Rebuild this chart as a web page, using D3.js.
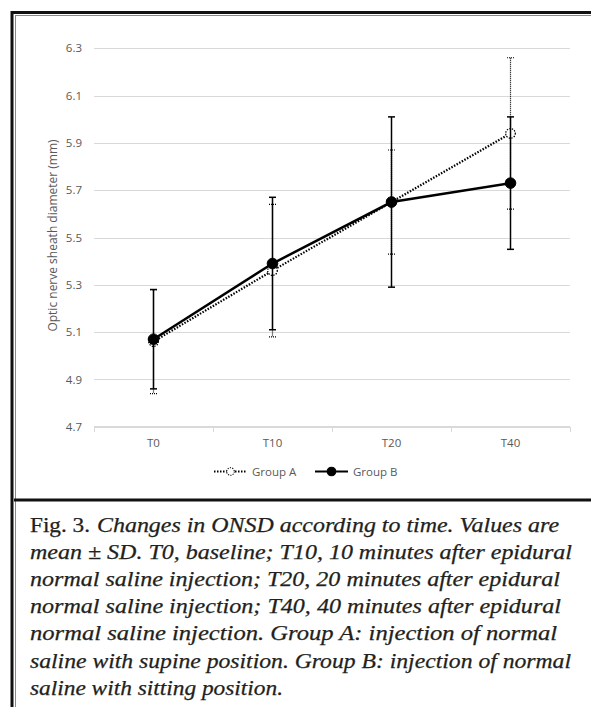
<!DOCTYPE html>
<html>
<head>
<meta charset="utf-8">
<script src="https://cdn.jsdelivr.net/npm/d3@7"></script>
<style>
  body { margin: 0; background: #fff; }
  svg { display: block; }
  .tick text { font-family: "Open Sans", "Noto Sans", sans-serif; font-size: 11.5px; fill: #595959; }
  .caption { font-family: "Liberation Serif", "DejaVu Serif", serif; font-size: 20px; fill: #231f20;
             stroke: #231f20; stroke-width: 0.25px; }
</style>
</head>
<body>
<svg id="fig" width="591" height="707"></svg>
<script>
// values
var categories = ["T0", "T10", "T20", "T40"];
var groupAMean = [5.06, 5.36, 5.65, 5.94];
var groupASd   = [0.22, 0.28, 0.22, 0.32];
var groupBMean = [5.07, 5.39, 5.65, 5.73];
var groupBSd   = [0.21, 0.28, 0.36, 0.28];
var yTicks = [4.7, 4.9, 5.1, 5.3, 5.5, 5.7, 5.9, 6.1, 6.3];
var yTitle = "Optic nerve sheath diameter (mm)";
var captionLines = [
  "Changes in ONSD according to time. Values are",
  "mean \u00b1 SD. T0, baseline; T10, 10 minutes after epidural",
  "normal saline injection; T20, 20 minutes after epidural",
  "normal saline injection; T40, 40 minutes after epidural",
  "normal saline injection. Group A: injection of normal",
  "saline with supine position. Group B: injection of normal",
  "saline with sitting position."
];

var svg = d3.select("#fig");
var sans = '"Open Sans", "Noto Sans", sans-serif';

// frame
svg.append("rect").attr("x", 12).attr("y", 12.5).attr("width", 700).attr("height", 800)
  .attr("fill", "none").attr("stroke", "#111").attr("stroke-width", 3);
svg.append("rect").attr("x", 15.5).attr("y", 15.5).attr("width", 700).attr("height", 800)
  .attr("fill", "none").attr("stroke", "#888").attr("stroke-width", 1);
svg.append("line").attr("x1", 14).attr("x2", 591).attr("y1", 500).attr("y2", 500)
  .attr("stroke", "#111").attr("stroke-width", 3);

var plotL = 94, plotR = 570, plotT = 48.3, plotB = 426.7;

var x = d3.scaleBand().domain(categories).range([plotL, plotR]).padding(0);
var y = d3.scaleLinear().domain([4.7, 6.3]).range([plotB, plotT]);
var cx = function(c) { return x(c) + x.bandwidth() / 2; };

// gridlines + y labels
var yAxis = svg.append("g")
  .attr("transform", "translate(" + plotL + ",0)")
  .call(d3.axisLeft(y).tickValues(yTicks).tickSize(-(plotR - plotL)).tickPadding(12)
    .tickFormat(d3.format(".1f")));
yAxis.select(".domain").remove();
yAxis.selectAll(".tick line").attr("stroke", "#d9d9d9").attr("stroke-width", 1)
  .attr("shape-rendering", "crispEdges");

// x axis
var xAxis = svg.append("g").attr("transform", "translate(0," + plotB + ")");
xAxis.append("line").attr("x1", plotL).attr("x2", plotR)
  .attr("stroke", "#d9d9d9").attr("shape-rendering", "crispEdges");
var edges = categories.map(function(c) { return x(c); }).concat([plotR]);
xAxis.selectAll(".edge").data(edges).enter().append("line")
  .attr("x1", function(d) { return d; }).attr("x2", function(d) { return d; })
  .attr("y1", 0).attr("y2", 5)
  .attr("stroke", "#d9d9d9").attr("shape-rendering", "crispEdges");
xAxis.selectAll(".lbl").data(categories).enter().append("text")
  .attr("x", cx).attr("y", 20.5)
  .attr("text-anchor", "middle")
  .style("font-family", sans).style("font-size", "11.5px")
  .attr("fill", "#595959")
  .text(function(d) { return d; });

// y title
svg.append("text")
  .attr("transform", "translate(56.5," + ((plotT + plotB) / 2 - 2) + ") rotate(-90)")
  .attr("text-anchor", "middle")
  .style("font-family", sans).style("font-size", "12px")
  .attr("fill", "#595959")
  .text(yTitle);

function series(means, sds, dotted, filled) {
  var data = categories.map(function(c, i) { return { c: c, m: means[i], s: sds[i] }; });
  var g = svg.append("g");
  var eb = g.selectAll(".eb").data(data).enter().append("g");
  eb.append("line")
    .attr("x1", function(d) { return cx(d.c); }).attr("x2", function(d) { return cx(d.c); })
    .attr("y1", function(d) { return y(d.m + d.s); }).attr("y2", function(d) { return y(d.m - d.s); })
    .attr("stroke", "#000").attr("stroke-width", dotted ? 1.2 : 1.5)
    .attr("stroke-dasharray", dotted ? "1 1" : null);
  [1, -1].forEach(function(sign) {
    eb.append("line")
      .attr("x1", function(d) { return cx(d.c) - 3.5; }).attr("x2", function(d) { return cx(d.c) + 3.5; })
      .attr("y1", function(d) { return y(d.m + sign * d.s); }).attr("y2", function(d) { return y(d.m + sign * d.s); })
      .attr("stroke", "#000").attr("stroke-width", dotted ? 1.2 : 1.5)
      .attr("stroke-dasharray", dotted ? "1 1" : null);
  });
  g.append("path").datum(data)
    .attr("d", d3.line().x(function(d) { return cx(d.c); }).y(function(d) { return y(d.m); }))
    .attr("fill", "none").attr("stroke", "#000")
    .attr("stroke-width", dotted ? 2.2 : 2.5)
    .attr("stroke-dasharray", dotted ? "1.5 1.5" : null);
  g.selectAll(".pt").data(data).enter().append("circle")
    .attr("cx", function(d) { return cx(d.c); }).attr("cy", function(d) { return y(d.m); })
    .attr("r", filled ? 5.3 : 4.8)
    .attr("fill", filled ? "#000" : "#fff")
    .attr("stroke", "#000").attr("stroke-width", filled ? 1 : 1.3)
    .attr("stroke-dasharray", dotted ? "1.3 1.3" : null);
}
series(groupAMean, groupASd, true, false);
series(groupBMean, groupBSd, false, true);

// legend
var legend = [
  { name: "Group A", dotted: true, filled: false, x0: 214, x1: 247 },
  { name: "Group B", dotted: false, filled: true, x0: 315, x1: 348 }
];
var lg = svg.append("g").attr("transform", "translate(0,471.5)");
legend.forEach(function(l) {
  lg.append("line").attr("x1", l.x0).attr("x2", l.x1).attr("y1", 0).attr("y2", 0)
    .attr("stroke", "#000").attr("stroke-width", l.dotted ? 1.8 : 2.2)
    .attr("stroke-dasharray", l.dotted ? "1.5 1.5" : null);
  lg.append("circle").attr("cx", (l.x0 + l.x1) / 2).attr("cy", 0).attr("r", l.filled ? 4.3 : 3.8)
    .attr("fill", l.filled ? "#000" : "#fff").attr("stroke", "#000")
    .attr("stroke-width", 1.1).attr("stroke-dasharray", l.dotted ? "1.2 1.2" : null);
  lg.append("text").attr("x", l.x1 + 5).attr("y", 4)
    .style("font-family", sans).style("font-size", "11.5px")
    .attr("fill", "#595959").text(l.name);
});

// caption
var capEnds = [559, 572, 560, 561, 557, 571, 283];
var cap = svg.append("g").attr("class", "caption");
cap.append("text").attr("x", 30).attr("y", 531.5).attr("textLength", 60)
  .attr("lengthAdjust", "spacingAndGlyphs").text("Fig. 3.");
cap.selectAll(".ln").data(captionLines).enter().append("text")
  .attr("x", function(d, i) { return i === 0 ? 97 : 30; })
  .attr("y", function(d, i) { return 531.5 + i * 27.2; })
  .attr("textLength", function(d, i) { return capEnds[i] - (i === 0 ? 97 : 30); })
  .attr("lengthAdjust", "spacingAndGlyphs")
  .style("font-style", "italic")
  .text(function(d) { return d; });
</script>
</body>
</html>
